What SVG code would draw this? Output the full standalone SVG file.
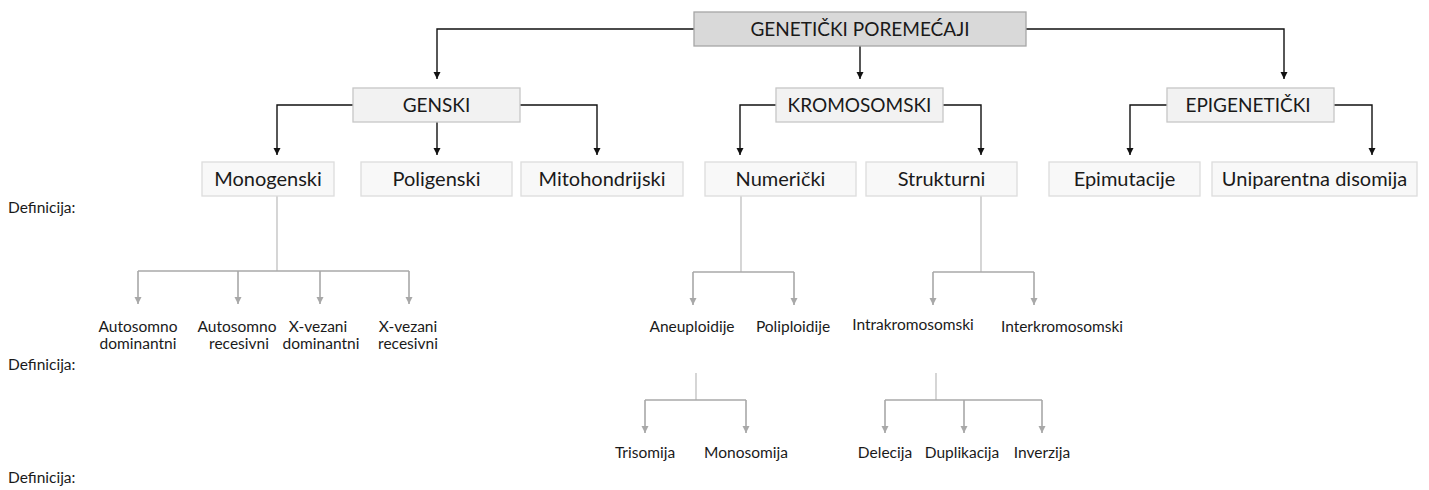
<svg xmlns="http://www.w3.org/2000/svg" width="1429" height="490" viewBox="0 0 1429 490">
<style>
text{font-family:Lato,"Open Sans","Liberation Sans",sans-serif;fill:#1a1a1a}
.bt{font-size:20px;text-anchor:middle}
.bc{font-size:19px;text-anchor:middle}
.lb{font-size:15.5px;text-anchor:middle}
.df{font-size:15.5px}
.top{fill:#d9d9d9;stroke:#a6a6a6;stroke-width:1.3}
.l2{fill:#f2f2f2;stroke:#c6c6c6;stroke-width:1.3}
.l3{fill:#f8f8f8;stroke:#dcdcdc;stroke-width:1.3}
.bk{fill:none;stroke:#111;stroke-width:1.4;marker-end:url(#ab)}
.st{fill:none;stroke:#c4c4c4;stroke-width:1.4}
.gr{fill:none;stroke:#a8a8a8;stroke-width:1.6}
.ga{fill:none;stroke:#a8a8a8;stroke-width:1.6;marker-end:url(#ag)}
</style>
<defs>
<marker id="ab" markerUnits="userSpaceOnUse" markerWidth="8" markerHeight="8" refX="7" refY="4" orient="auto"><path d="M0,0.5 L7,4 L0,7.5 z" fill="#111"/></marker>
<marker id="ag" markerUnits="userSpaceOnUse" markerWidth="8" markerHeight="8" refX="7" refY="4" orient="auto"><path d="M0,0.5 L7,4 L0,7.5 z" fill="#a8a8a8"/></marker>
</defs>
<rect width="1429" height="490" fill="#fff"/>
<g id="connectors">
<path class="bk" d="M694,29 H437 V79"/>
<path class="bk" d="M860,46 V79"/>
<path class="bk" d="M1026,29 H1284 V79"/>
<path class="bk" d="M353,105 H277 V155"/>
<path class="bk" d="M437,122 V155"/>
<path class="bk" d="M520,105 H597 V155"/>
<path class="bk" d="M776,105 H740 V155"/>
<path class="bk" d="M943,105 H981 V155"/>
<path class="bk" d="M1167,105 H1130 V155"/>
<path class="bk" d="M1334,105 H1372 V155"/>
<path class="st" d="M277,196 V271"/>
<path class="gr" d="M138,271 H409"/>
<path class="ga" d="M138,271 V304"/>
<path class="ga" d="M238,271 V304"/>
<path class="ga" d="M320,271 V304"/>
<path class="ga" d="M409,271 V304"/>
<path class="st" d="M741,196 V272"/>
<path class="gr" d="M693,272 H794"/>
<path class="ga" d="M693,272 V305"/>
<path class="ga" d="M794,272 V305"/>
<path class="st" d="M981,196 V272"/>
<path class="gr" d="M933,272 H1034"/>
<path class="ga" d="M933,272 V305"/>
<path class="ga" d="M1034,272 V305"/>
<path class="st" d="M696,373 V400"/>
<path class="gr" d="M645,400 H746"/>
<path class="ga" d="M645,400 V433"/>
<path class="ga" d="M746,400 V433"/>
<path class="st" d="M936,373 V400"/>
<path class="gr" d="M885,400 H1042"/>
<path class="ga" d="M885,400 V433"/>
<path class="ga" d="M964,400 V433"/>
<path class="ga" d="M1042,400 V433"/>
</g>
<g id="n-root"><rect class="top" x="694" y="12" width="332" height="34"/><text class="bc" x="860" y="36">GENETIČKI POREMEĆAJI</text></g>
<g id="n-genski"><rect class="l2" x="353" y="88" width="167" height="34"/><text class="bc" x="436.5" y="112">GENSKI</text></g>
<g id="n-kromosomski"><rect class="l2" x="776" y="88" width="167" height="34"/><text class="bc" x="859.5" y="112">KROMOSOMSKI</text></g>
<g id="n-epigeneticki"><rect class="l2" x="1167" y="88" width="167" height="34"/><text class="bc" x="1248" y="112">EPIGENETIČKI</text></g>
<g id="n-monogenski"><rect class="l3" x="202" y="162" width="132" height="34"/><text class="bt" x="268" y="186">Monogenski</text></g>
<g id="n-poligenski"><rect class="l3" x="361" y="162" width="151" height="34"/><text class="bt" x="436.5" y="186">Poligenski</text></g>
<g id="n-mitohondrijski"><rect class="l3" x="521" y="162" width="162" height="34"/><text class="bt" x="602" y="186">Mitohondrijski</text></g>
<g id="n-numericki"><rect class="l3" x="705" y="162" width="151" height="34"/><text class="bt" x="780.5" y="186">Numerički</text></g>
<g id="n-strukturni"><rect class="l3" x="866" y="162" width="151" height="34"/><text class="bt" x="941.5" y="186">Strukturni</text></g>
<g id="n-epimutacije"><rect class="l3" x="1049" y="162" width="151" height="34"/><text class="bt" x="1124.5" y="186">Epimutacije</text></g>
<g id="n-uniparentna"><rect class="l3" x="1212" y="162" width="205" height="34"/><text class="bt" x="1314.5" y="186">Uniparentna disomija</text></g>
<g id="n-ad"><text class="lb" x="138" y="332">Autosomno</text><text class="lb" x="138" y="349">dominantni</text></g>
<g id="n-ar"><text class="lb" x="237" y="332">Autosomno</text><text class="lb" x="239" y="349">recesivni</text></g>
<g id="n-xd"><text class="lb" x="318" y="332">X-vezani</text><text class="lb" x="321" y="349">dominantni</text></g>
<g id="n-xr"><text class="lb" x="408" y="332">X-vezani</text><text class="lb" x="408" y="349">recesivni</text></g>
<g id="n-aneuploidije"><text class="lb" x="692" y="332">Aneuploidije</text></g>
<g id="n-poliploidije"><text class="lb" x="793" y="332">Poliploidije</text></g>
<g id="n-intra"><text class="lb" x="913" y="330">Intrakromosomski</text></g>
<g id="n-inter"><text class="lb" x="1062" y="332">Interkromosomski</text></g>
<g id="n-trisomija"><text class="lb" x="645" y="458">Trisomija</text></g>
<g id="n-monosomija"><text class="lb" x="746" y="458">Monosomija</text></g>
<g id="n-delecija"><text class="lb" x="885" y="458">Delecija</text></g>
<g id="n-duplikacija"><text class="lb" x="962" y="458">Duplikacija</text></g>
<g id="n-inverzija"><text class="lb" x="1042" y="458">Inverzija</text></g>
<g id="definicije"><text class="df" x="8" y="213">Definicija:</text><text class="df" x="8" y="370">Definicija:</text><text class="df" x="8" y="483">Definicija:</text></g>
</svg>
